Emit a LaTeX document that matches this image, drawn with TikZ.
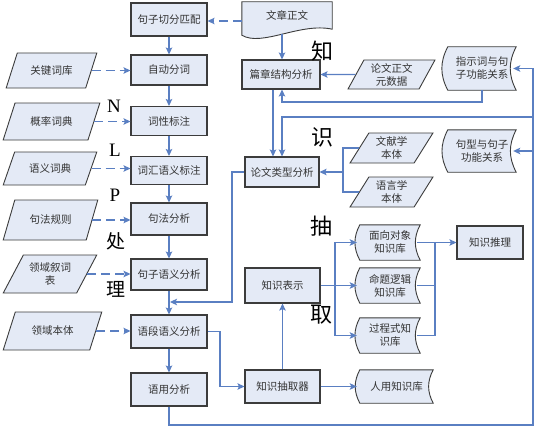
\documentclass[tikz,border=0pt]{standalone}
\usepackage{fontspec}
\setmainfont{Noto Sans CJK SC}
\newfontfamily\latinserif{Liberation Serif}
\usetikzlibrary{shapes.geometric,arrows.meta,calc,backgrounds}
\definecolor{boxfill}{HTML}{E4EAF6}
\definecolor{boxline}{HTML}{3C3C3C}
\definecolor{flow}{HTML}{5A7FC2}

\tikzset{
  base/.style={font=\fontsize{10.5}{13}\selectfont, text=black!80, align=center, inner sep=0pt},
  wh/.style 2 args={minimum width=#1, minimum height=#2},
  proc/.style={base, rectangle, draw=boxline, fill=boxfill, line width=1.1pt},
  datain/.style={base, trapezium, trapezium left angle=#1, trapezium right angle=180-#1,
    trapezium stretches=true, draw=boxline, fill=boxfill, line width=0.9pt},
  store/.style={base, rectangle, draw=none},
  outline/.style={draw=boxline, fill=boxfill, line width=0.9pt},
  flowline/.style={draw=flow, line width=1.1pt},
  arr/.style={flowline, -{Stealth[length=7pt,width=6.5pt,inset=1.5pt]}},
  darr/.style={arr, dash pattern=on 9pt off 5pt},
  bigchar/.style={font=\fontsize{22}{22}\selectfont, text=black, inner sep=0pt},
  sidechar/.style={font=\fontsize{19}{19}\selectfont, text=black, inner sep=0pt},
  letter/.style={font=\latinserif\fontsize{19}{19}\selectfont, text=black, inner sep=0pt},
}

\begin{document}
\begin{tikzpicture}[x=1pt,y=-1pt]
\useasboundingbox (0,0) rectangle (546,436);

% ---- NLP pipeline (left column) ----
\node[proc, wh={76}{33}] (s1) at (169,19.5)  {句子切分匹配};
\node[proc, wh={76}{30}] (s2) at (169,70)    {自动分词};
\node[proc, wh={76}{29}] (s3) at (169,121)   {词性标注};
\node[proc, wh={76}{28}] (s4) at (169,170.5) {词汇语义标注};
\node[proc, wh={76}{32}] (s5) at (169,219)   {句法分析};
\node[proc, wh={76}{31}] (s6) at (169,274.5) {句子语义分析};
\node[proc, wh={76}{33}] (s7) at (169,331.5) {语段语义分析};
\node[proc, wh={76}{33}] (s8) at (169,389.5) {语用分析};

% ---- resources feeding the pipeline ----
\node[datain=55, wh={91}{35}] (p1) at (51.5,70.5)  {关键词库};
\node[datain=55, wh={97}{37}] (p2) at (51.5,121.5) {概率词典};
\node[datain=55, wh={94}{33}] (p3) at (50,168.5)   {语义词典};
\node[datain=55, wh={95}{40}] (p4) at (50.5,220)   {句法规则};
\node[datain=55, wh={94}{38}] (p5) at (50,274)     {领域叙词\\表};
\node[datain=55, wh={99}{38}] (p6) at (52.5,331)   {领域本体};

% ---- document analysis and knowledge (right side) ----
\node[store, wh={90}{27}] (d0) at (287,15.5) {文章正文};
\node[proc, wh={78}{29}] (r1) at (281,74.5) {篇章结构分析};
\node[datain=62, wh={87}{29}] (q1) at (391.5,74.5) {论文正文\\元数据};
\node[store, wh={68}{43}] (k1) at (482,68.5) {指示词与句\\子功能关系};
\node[proc, wh={74}{30}] (r2) at (282,172) {论文类型分析};
\node[datain=60, wh={83}{30}] (q2) at (391.5,148) {文献学\\本体};
\node[datain=60, wh={83}{30}] (q3) at (391.5,192) {语言学\\本体};
\node[store, wh={68}{42}] (k2) at (482,151) {句型与句子\\功能关系};
\node[proc, wh={75}{35}] (r3) at (282.5,285.5) {知识表示};
\node[proc, wh={75}{33}] (r4) at (282.5,386.5) {知识抽取器};
\node[store, wh={60}{35}] (kb1) at (390,242.5) {面向对象\\知识库};
\node[store, wh={60}{35}] (kb2) at (390,285.5) {命题逻辑\\知识库};
\node[store, wh={60}{35}] (kb3) at (390,335.5) {过程式知\\识库};
\node[store, wh={73}{33}] (kb4) at (396.5,386.5) {人用知识库};
\node[proc, wh={66}{33}] (r5) at (490,242.5) {知识推理};

% ---- side captions ----
\node[letter] (tN) at (114,106) {N};
\node[letter] (tL) at (115,150) {L};
\node[letter] (tP) at (115,195) {P};
\node[sidechar] (tchu) at (116,241) {处};
\node[sidechar] (tli) at (116,289) {理};
\node[bigchar] (tzhi) at (322,51) {知};
\node[bigchar] (tshi) at (322,137) {识};
\node[bigchar] (tchou) at (321,226) {抽};
\node[bigchar] (tqu) at (321,315) {取};

% ---- outlines of document and stored-data shapes ----
\begin{scope}[on background layer]
  \fill[white] (0,0) rectangle (546,436);
  \path[outline] (d0.north west) -- ($(d0.south west)+(0,6)$)
    .. controls ($(d0.south west)+(20,18)$) and ($(d0.south east)+(-32,-7)$) .. (d0.south east)
    -- (d0.north east) -- cycle;
  \foreach \n in {k1,k2,kb1,kb2,kb3,kb4}
    \path[outline] (\n.north west) to[bend right=28] (\n.south west)
      -- (\n.south east) to[bend left=28] (\n.north east) -- cycle;
\end{scope}

% ---- pipeline flow ----
\draw[arr] (s1) -- (s2);
\draw[arr] (s2) -- (s3);
\draw[arr] (s3) -- (s4);
\draw[arr] (s4) -- (s5);
\draw[arr] (s5) -- (s6);
\draw[arr] (s6) -- (s7);
\draw[arr] (s7) -- (s8);

\draw[darr] (p1.east) -- (p1.east -| s2.west);
\draw[darr] (p2.east) -- (p2.east -| s3.west);
\draw[darr] (p3.east) -- (p3.east -| s4.west);
\draw[darr] (p4.east) -- (p4.east -| s5.west);
\draw[darr] (p5.east) -- (p5.east -| s6.west);
\draw[darr] (p6.east) -- (p6.east -| s7.west);

% ---- document side ----
\coordinate (docl) at ($(d0.west)+(0,5.5)$);
\draw[darr] (docl) -- (docl -| s1.east);
\coordinate (docfoot) at (282,34);
\draw[arr] (docfoot) -- (docfoot |- r1.north);
\draw[arr] (q1.west) -- (r1.east);
\coordinate (fb) at (282,102);
\draw[arr] (k1.south) |- (fb) -- (fb |- r1.south);
\draw[arr] ([xshift=-8pt]r1.south) -- ([xshift=-8pt]r1.south |- r2.north);

\coordinate (obus) at (343,172);
\draw[flowline] (q2.west) -| (obus |- q3.west) -- (q3.west);
\draw[arr] (obus) -- (r2.east);

\coordinate (join7) at (169,302);
\coordinate (typeleft) at (232,302);
\draw[arr] (r2.west) -| (typeleft) -- ([xshift=1pt]join7);

% ---- feedback loop from pragmatics ----
\coordinate (loopL) at (169,425);
\coordinate (loopR) at (533,425);
\coordinate (typein) at (282,117);
\draw[arr] (s8.south) -- (loopL) -- (loopR) |- ([xshift=-3pt]k1.east);
\draw[arr] (loopR |- k2.east) -- ([xshift=-3pt]k2.east);
\draw[arr] (loopR |- typein) -- (typein) -- (typein |- r2.north);

% ---- knowledge extraction ----
\coordinate (elbow) at (220,386.5);
\draw[arr] (s7.east) -| (elbow) -- (r4.west);
\draw[arr] (r4.north) -- (r3.south);
\draw[arr] (r4.east) -- ([xshift=-3pt]kb4.west);

\coordinate (kbus) at (335,285.5);
\draw[arr] (r3.east) -- ([xshift=-3pt]kb2.west);
\draw[arr] (kbus) |- ([xshift=-3pt]kb1.west);
\draw[arr] (kbus) |- ([xshift=-3pt]kb3.west);

\coordinate (rbus) at (435,242.5);
\draw[arr] ([xshift=-3pt]kb1.east) -- (r5.west);
\draw[flowline] ([xshift=-3pt]kb2.east) -| (rbus);
\draw[flowline] ([xshift=-3pt]kb3.east) -| (rbus);
\end{tikzpicture}
\end{document}
